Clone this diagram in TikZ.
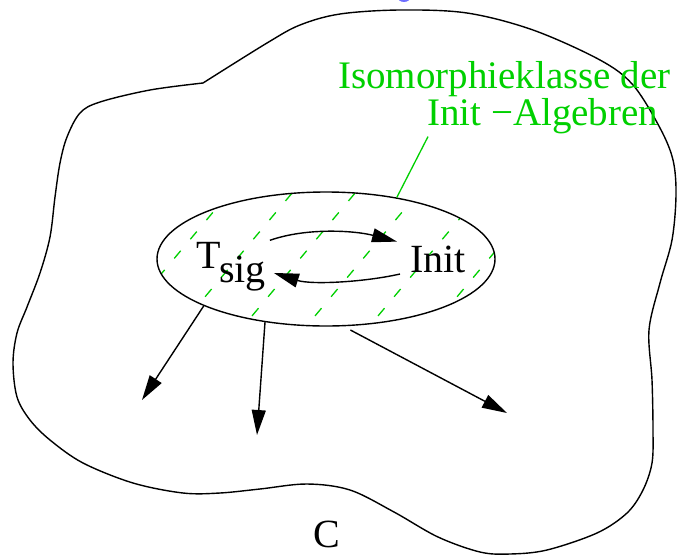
\documentclass[tikz,border=0pt]{standalone}
\usepackage{fontspec}
\setmainfont{Liberation Serif}
\usetikzlibrary{arrows.meta}
\usetikzlibrary{shapes.geometric}
\usetikzlibrary{positioning}
\definecolor{figgreen}{RGB}{0,208,0}
\definecolor{figblue}{RGB}{110,110,255}

\tikzset{
  txt/.style={inner sep=0,anchor=base west,font=\fontsize{40}{40}\selectfont},
  gtxt/.style={txt,text=figgreen,font=\fontsize{39}{39}\selectfont},
  arr/.style={line width=1.4pt,-{Triangle[length=25pt,width=14pt]}},
  hatch/.style={figgreen,line width=1.3pt,dash pattern=on 10pt off 15pt}
}

\begin{document}
\begin{tikzpicture}[x=1pt,y=-1pt]
\useasboundingbox (0,0) rectangle (677,555);
\fill[figblue] (404,-4) ellipse [x radius=7, y radius=6];

% category C
\draw[line width=1.4pt] plot[smooth,tension=0.55] coordinates {
(203,83) (267,43) (300,25) (340,14) (400,10) (467,13) (533,30) (600,60) (633,85)
(660,128) (673,160) (676,195) (672,240) (660,283) (649,330) (652,380) (653,430)
(652,463) (643,490) (627,513) (597,533) (547,550) (510,554) (480,552) (438,537)
(394,512) (350,490) (307,484) (260,489) (220,493) (183,493) (133,483) (83,463)
(50,440) (30,420) (17,397) (13,363) (17,333) (27,307) (40,273) (50,237) (55,197)
(60,163) (67,137) (80,113) (100,102) (150,90) (203,83)};

% hatched ellipse
\begin{scope}
\clip (326,259) ellipse [x radius=169, y radius=67];
\foreach \x in {47,110,...,488}
  \draw[hatch] (\x,335) -- ++(125,-149);
\end{scope}
\node[draw,ellipse,line width=1.4pt,minimum width=338pt,minimum height=134pt,inner sep=0] (iso) at (326,259) {};

\node[txt] (tsig) at (196,268) {T};
\node[txt] (sig) at ([shift={(-2pt,-14pt)}]tsig.base east) {sig};
\node[txt] (init) at (410,272) {Init};

\draw[arr] ([shift={(4pt,15pt)}]sig.north east) .. controls +(37,-13) and +(-42,-11) .. ([shift={(-13pt,3.7pt)}]init.north west);
\draw[arr] ([shift={(-10pt,-2pt)}]init.base west) .. controls +(-35,8) and +(38,12) .. ([shift={(8pt,9pt)}]sig.base east);

\coordinate (p1) at (142,400);
\coordinate (p2) at (257,435);
\coordinate (p3) at (507,413);
\draw[arr] (iso.201) -- (p1);
\draw[arr] (iso.226) -- (p2);
\draw[arr] ([yshift=-4pt]iso.290) -- (p3);

\node[txt] (cat) at (313,547) {C};

\node[gtxt] (klasse1) at (338,88) {Isomorphieklasse der};
\node[gtxt] (klasse2) at (427,125) {Init −Algebren};
\draw[figgreen,line width=1.3pt] ([shift={(1pt,-3pt)}]klasse2.south west) -- (iso.41);

\end{tikzpicture}
\end{document}
